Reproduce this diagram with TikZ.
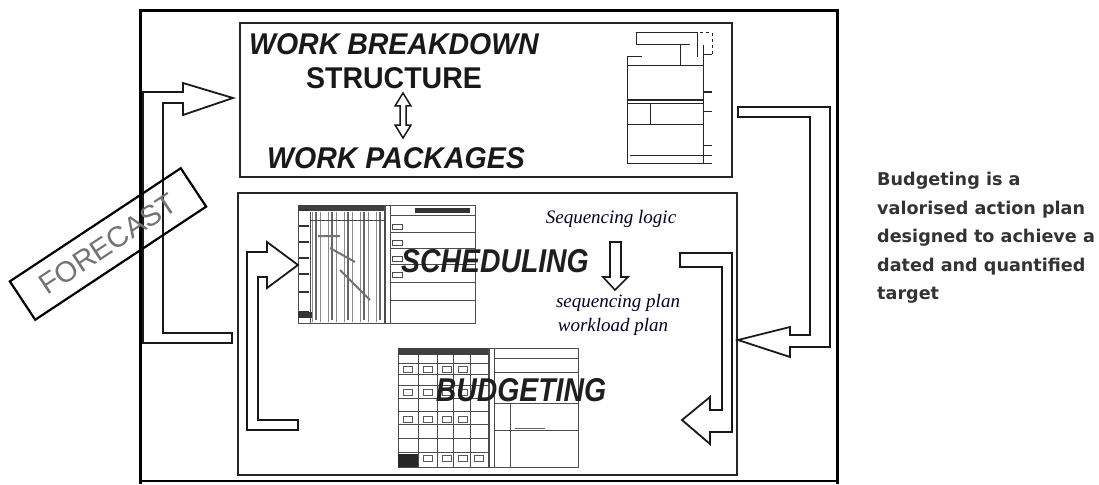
\documentclass[tikz,border=0pt]{standalone}
\usepackage{fontspec}
\setmainfont{Liberation Serif}
\setsansfont{Liberation Sans}
\newfontfamily\dejavu{DejaVu Sans}
\begin{document}
\begin{tikzpicture}[x=1pt,y=-1pt,
  frame/.style={line width=3pt},
  panel/.style={line width=1.6pt, black!85},
  blockarrow/.style={line width=1.8pt, line join=miter, black!90},
  chart/.style={line width=1pt, black!70},
  thinchart/.style={line width=0.6pt, black!45},
  bigtitle/.style={font=\fontsize{30}{30}\selectfont\sffamily\bfseries, xscale=.95, inner sep=0, black!90},
  chartlabel/.style={font=\fontsize{33}{33}\selectfont\sffamily\bfseries\itshape, xscale=.86, inner sep=0, black!88},
  seqtext/.style={font=\fontsize{19}{19}\selectfont\itshape, inner sep=0, black!85!blue},
  note/.style={font=\fontsize{17.6}{28.5}\selectfont\dejavu\bfseries, align=left, inner sep=0, anchor=north west, black!80},
  forecastbox/.style={draw, line width=2.2pt, minimum width=205pt, minimum height=46pt, inner sep=0, rotate=33.5,
    font=\fontsize{29}{29}\selectfont\sffamily, text=black!55}
]
\useasboundingbox (0,0) rectangle (1099,484);

% outer frame
\draw[frame] (140,484) -- (140,11) -- (837,11) -- (837,484);
\draw[line width=2pt] (140,481) -- (837,481);

% panels
\draw[panel] (240,23) rectangle (732,177);
\draw[panel] (238,193) rectangle (737,475);

% WBS org chart
\begin{scope}[chart, black!85]
  \draw (636,45) -- (636,33) -- (697,33) -- (697,57);
  \draw (636,45) -- (690,45);
  \draw[dashed] (700,33) -- (712,33) -- (712,57);
  \draw (627,57) -- (642,57);
  \draw (680,45) -- (680,66);
  \draw (627,57) -- (627,163) -- (712,163);
  \draw (627,66) -- (703,66);
  \draw[line width=2pt] (627,100) -- (703,100);
  \draw (627,104) -- (703,104);
  \draw (650,104) -- (650,124);
  \draw (627,124) -- (703,124);
  \draw (630,155) -- (712,155);
  \draw (703,45) -- (703,163);
  \foreach \yy in {55,112,145} \draw (703,\yy) -- (712,\yy);
  \draw[line width=2.5pt] (703,92) -- (712,92);
\end{scope}

% Scheduling chart
\begin{scope}[chart]
  \draw (298,205) rectangle (475,323);
  \fill[black!75] (298,205) rectangle (385,211);
  \foreach \xx in {312,320,...,384} \draw[thinchart] (\xx,212) -- (\xx,322);
  \foreach \xx in {316,332,348,364,380} \draw[black!60, line width=1.2pt] (\xx,212) -- (\xx,320);
  \foreach \yy in {210,226,242,258,274,292,312} \draw[line width=2pt, black!80] (299,\yy) -- (309,\yy);
  \draw (310,212) -- (310,323);
  \draw (310,220) -- (385,220);
  \draw[black!55, line width=2pt] (318,236) -- (340,236) (330,248) -- (355,262) (340,270) -- (370,300);
  \fill[black!80] (298,312) rectangle (312,318);
  \draw[line width=1.4pt] (385,205) -- (385,323);
  \draw (390,205) -- (390,323);
  \foreach \yy in {215,232,248,264,282,300} \draw (390,\yy) -- (475,\yy);
  \fill[black!80] (415,208) rectangle (470,213);
  \foreach \yy in {224,240,256,272} \draw (392,\yy) rectangle (402,\yy+5);
\end{scope}

% Budgeting chart
\begin{scope}[chart]
  \draw (398,348) rectangle (578,467);
  \fill[black!75] (398,348) rectangle (490,355);
  \foreach \xx in {418,437,453,470} \draw (\xx,355) -- (\xx,467);
  \draw[line width=1.6pt] (489,348) -- (489,467);
  \draw (494,348) -- (494,467);
  \foreach \yy in {363,374,385,398,411,424,438,452} \draw (398,\yy) -- (489,\yy);
  \foreach \xx/\yy in {403/366,423/366,442/366,458/366,403/389,423/389,442/389,458/389,403/416,423/416,442/416,458/416,
                     423/455,442/455,458/455,474/455}
     \draw[black!65] (\xx,\yy) rectangle (\xx+9,\yy+6);
  \fill[black!85] (398,454) rectangle (418,467);
  \foreach \yy in {358,372,403,430} \draw (494,\yy) -- (578,\yy);
  \draw (510,403) -- (510,467);
  \draw[black!60] (515,428) -- (545,428);
\end{scope}

% texts
\node[bigtitle, font=\fontsize{30}{30}\selectfont\sffamily\bfseries\itshape] (wbs) at (394,44) {WORK BREAKDOWN};
\node[bigtitle] (str) at (394,78) {STRUCTURE};
\node[bigtitle, font=\fontsize{30}{30}\selectfont\sffamily\bfseries\itshape] (wp) at (396,158) {WORK PACKAGES};
\node[chartlabel] (sched) at (495,261) {SCHEDULING};
\node[chartlabel] (budg) at (521,390) {BUDGETING};
\node[seqtext] (seqlogic) at (611,219) {Sequencing logic};
\node[seqtext] (seqplan) at (618,303) {sequencing plan};
\node[seqtext] (workload) at (613,327) {workload plan};
\node[note] (note) at (877,172) {Budgeting is a\\valorised action plan\\designed to achieve a\\dated and quantified\\target};

% double arrow WBS <-> WP
\draw[blockarrow, line width=1.5pt] (403,93) -- (411,106) -- (406,106) -- (406,125) -- (411,125) -- (403,138)
   -- (395,125) -- (400,125) -- (400,106) -- (395,106) -- cycle;

% down arrow under sequencing logic
\draw[blockarrow, line width=1.6pt] (610,242) -- (621,242) -- (621,277) -- (628,277) -- (615,290) -- (603,277) -- (610,277) -- cycle;

% FORECAST loop arrow (left)
\draw[blockarrow] (232,343) -- (143,343) -- (143,92) -- (183,92) -- (183,83) -- (233,98) -- (183,115)
   -- (183,103) -- (163,103) -- (163,333) -- (232,333) -- cycle;

% right loop arrow (WBS -> planning)
\draw[blockarrow] (738,107) -- (830,107) -- (830,347) -- (790,347) -- (790,357) -- (738,340) -- (790,327)
   -- (790,335) -- (810,335) -- (810,117) -- (738,117) -- cycle;

% inner right arrow (scheduling -> budgeting)
\draw[blockarrow] (680,253) -- (732,253) -- (732,432) -- (710,432) -- (710,444) -- (682,420) -- (710,397)
   -- (710,410) -- (722,410) -- (722,267) -- (680,267) -- cycle;

% inner left arrow (budgeting -> scheduling)
\draw[blockarrow] (298,430) -- (247,430) -- (247,252) -- (267,252) -- (267,242) -- (298,265) -- (267,288)
   -- (267,277) -- (258,277) -- (258,420) -- (298,420) -- cycle;

% FORECAST label
\node[forecastbox] (forecast) at (108,244) {FORECAST};
\end{tikzpicture}
\end{document}
